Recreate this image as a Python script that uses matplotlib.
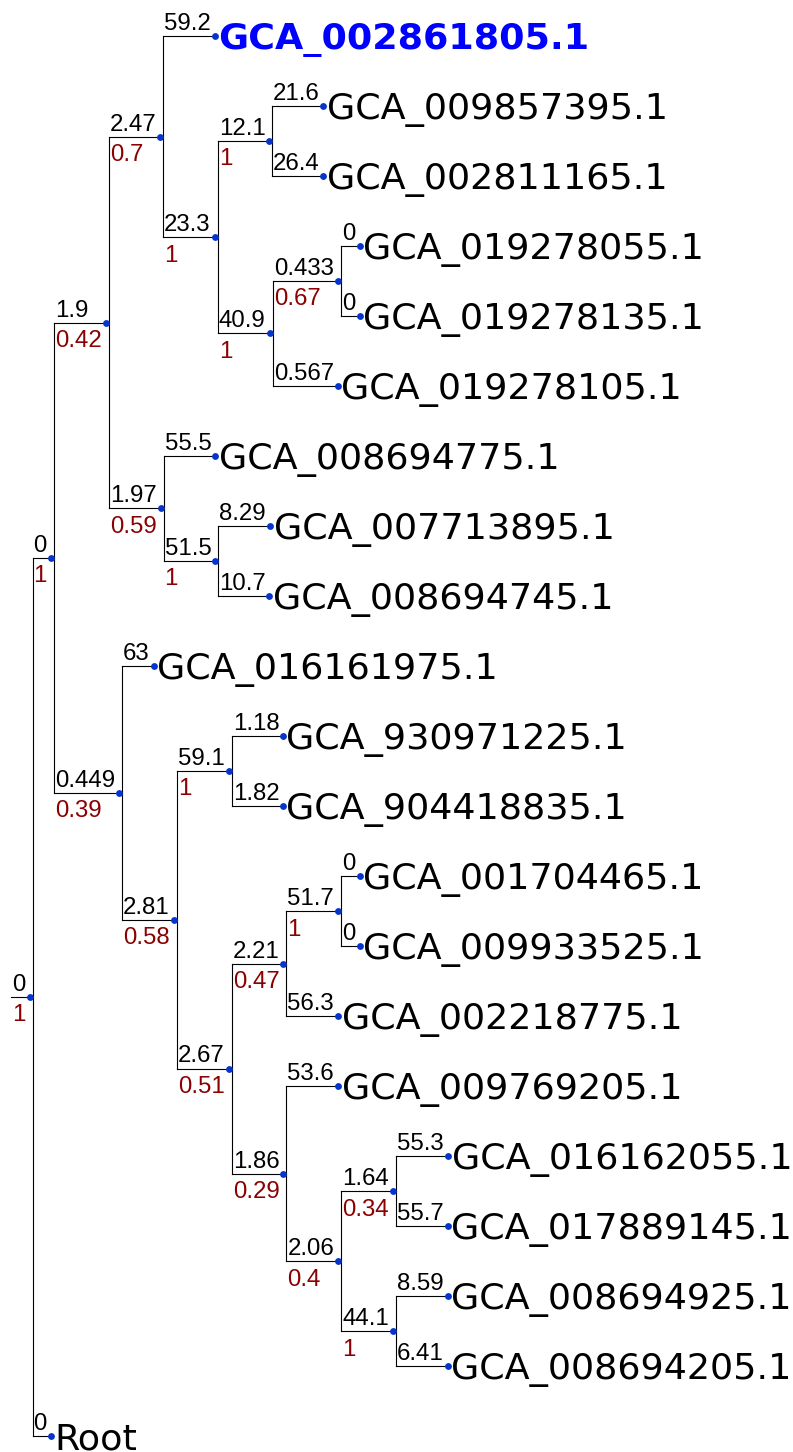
import numpy as np
import matplotlib.pyplot as plt
from matplotlib.textpath import TextPath
from matplotlib.font_manager import FontProperties

# tree as flat arrays: parent index, branch length, support (nan for leaves)
names = ['', '', '', '', 'GCA_002861805.1', '', '', 'GCA_009857395.1', 'GCA_002811165.1',
         '', '', 'GCA_019278055.1', 'GCA_019278135.1', 'GCA_019278105.1',
         '', 'GCA_008694775.1', '', 'GCA_007713895.1', 'GCA_008694745.1',
         '', 'GCA_016161975.1', '', '', 'GCA_930971225.1', 'GCA_904418835.1',
         '', '', '', 'GCA_001704465.1', 'GCA_009933525.1', 'GCA_002218775.1',
         '', 'GCA_009769205.1', '', '', 'GCA_016162055.1', 'GCA_017889145.1',
         '', 'GCA_008694925.1', 'GCA_008694205.1', 'Root']
parents = [None, 0, 1, 2, 3, 3, 5, 6, 6,
           5, 9, 10, 10, 9,
           2, 14, 14, 16, 16,
           1, 19, 19, 21, 22, 22,
           21, 25, 26, 27, 27, 26,
           25, 31, 31, 33, 34, 34,
           33, 37, 37, 0]
dists = [0, 0, 1.9, 2.47, 59.2, 23.3, 12.1, 21.6, 26.4,
         40.9, 0.433, 0, 0, 0.567,
         1.97, 55.5, 51.5, 8.29, 10.7,
         0.449, 63, 2.81, 59.1, 1.18, 1.82,
         2.67, 2.21, 51.7, 0, 0, 56.3,
         1.86, 53.6, 2.06, 1.64, 55.3, 55.7,
         44.1, 8.59, 6.41, 0]
nan = np.nan
supports = [1, 1, 0.42, 0.7, nan, 1, 1, nan, nan,
            1, 0.67, nan, nan, nan,
            0.59, nan, 1, nan, nan,
            0.39, nan, 0.58, 1, nan, nan,
            0.51, 0.47, 1, nan, nan, nan,
            0.29, nan, 0.4, 0.34, nan, nan,
            1, nan, nan, nan]
highlight = 'GCA_002861805.1'

W, H = 793, 1452
LBL_PX = 24      # branch label size, px
LEAF_PX = 36.5   # leaf name size, px
STEP = 70        # px between leaves
TOP = 36         # first leaf y, px
X0 = 11          # root stub start, px
DOT_R = 3
PAD = 7.1
line_col = 'black'
dot_col = '#0535cc'
sup_col = '#8b0000'

lab_fp = FontProperties(family='Liberation Sans')


def ink_w(s):
    if not s:
        return 0
    return TextPath((0, 0), s, size=LBL_PX, prop=lab_fp).get_extents().width


def fmt(v):
    if v is None or np.isnan(v):
        return ''
    return '%g' % v


n = len(names)
children = {i: [] for i in range(n)}
for i, p in enumerate(parents):
    if p is not None:
        children[p].append(i)

y = np.zeros(n)
xdot = np.zeros(n)
xv = np.zeros(n)
leaf_count = [0]


def layout(i, px):
    w = max(ink_w(fmt(dists[i])), ink_w(fmt(supports[i]))) + PAD
    xdot[i] = px + w
    xv[i] = xdot[i] + DOT_R
    if not children[i]:
        y[i] = leaf_count[0]
        leaf_count[0] += 1
    else:
        for c in children[i]:
            layout(c, xv[i])
        y[i] = (y[children[i][0]] + y[children[i][-1]]) / 2


layout(0, X0)

fig = plt.figure(figsize=(W / 100, H / 100), dpi=100)
ax = fig.add_axes([0, 0, 1, 1])
ax.set_xlim(0, W)
ax.set_ylim((H - TOP) / STEP, -TOP / STEP)
ax.axis('off')

lw = 0.8
for i in range(n):
    p = parents[i]
    px = X0 if p is None else xv[p]
    end = xv[i] if children[i] else xdot[i]
    ax.plot([px, end], [y[i], y[i]], color=line_col, lw=lw, zorder=1)
    if children[i]:
        ax.plot([xv[i], xv[i]], [y[children[i][0]], y[children[i][-1]]],
                color=line_col, lw=lw, zorder=1)
    ax.annotate(fmt(dists[i]), (px, y[i]), xytext=(1, 6), textcoords='offset pixels',
                ha='left', va='baseline', fontsize=LBL_PX * 0.72,
                family='Liberation Sans', color='black')
    s = fmt(supports[i])
    if s:
        ax.annotate(s, (px, y[i]), xytext=(1, -24.5), textcoords='offset pixels',
                    ha='left', va='baseline', fontsize=LBL_PX * 0.72,
                    family='Liberation Sans', color=sup_col)
    if not children[i]:
        bold = names[i] == highlight
        ax.annotate(names[i], (xdot[i], y[i]), xytext=(3.5, -13), textcoords='offset pixels',
                    ha='left', va='baseline', fontsize=LEAF_PX * 0.72,
                    family='DejaVu Sans', fontweight='bold' if bold else 'normal',
                    color='#0000ff' if bold else 'black')

ax.scatter(xdot, y, s=(2 * DOT_R * 0.72 + 0.6) ** 2, color=dot_col, zorder=3, linewidths=0)

plt.savefig('out.png', dpi=100)
